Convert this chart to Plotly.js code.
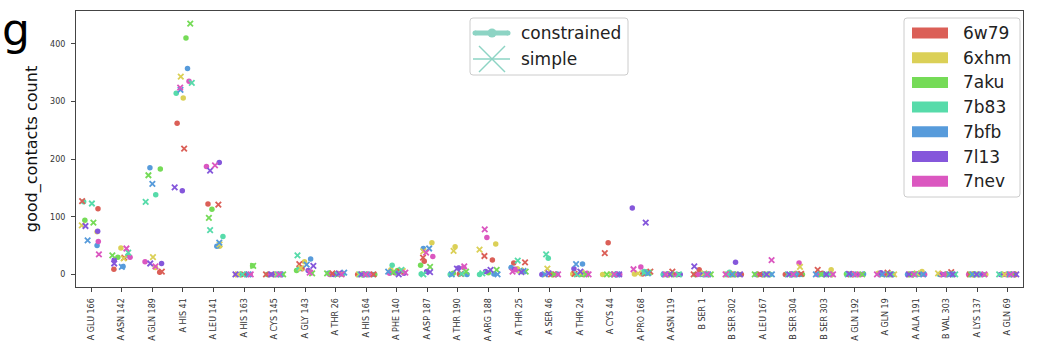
<!DOCTYPE html>
<html>
<head>
<meta charset="utf-8">
<script src="https://cdn.plot.ly/plotly-3.0.1.min.js"></script>
<style>html,body{margin:0;padding:0;background:#fff;}#chart{width:1038px;height:347px;}</style>
</head>
<body>
<div id="chart"></div>
<script>
// ---------------- DATA ----------------
const categories = ['A GLU 166','A ASN 142','A GLN 189','A HIS 41','A LEU 141','A HIS 163','A CYS 145','A GLY 143','A THR 26','A HIS 164','A PHE 140','A ASP 187','A THR 190','A ARG 188','A THR 25','A SER 46','A THR 24','A CYS 44','A PRO 168','A ASN 119','B SER 1','B SER 302','A LEU 167','B SER 304','B SER 303','A GLN 192','A GLN 19','A ALA 191','B VAL 303','A LYS 137','A GLN 69'];
const pdbs = ['6w79','6xhm','7aku','7b83','7bfb','7l13','7nev'];
const methods = ['constrained','simple'];
const yTicks = [0,100,200,300,400];

const constrained_6w79 = [114,9,4,262,122,0,0,10,1,0,3,23,1,25,20,0,0,55,1,0,8,0,0,0,2,1,0,1,0,0,0];
const simple_6w79      = [127,29,5,218,121,0,0,18,2,0,5,29,1,32,21,0,1,37,5,5,0,0,0,1,8,0,3,0,4,0,0];
const constrained_6xhm = [74,46,12,306,49,0,0,22,0,0,8,55,48,53,10,0,1,0,1,0,0,0,0,2,8,0,2,5,1,0,0];
const simple_6xhm      = [85,28,30,343,52,0,0,11,1,0,6,40,41,43,7,10,3,0,2,0,2,0,0,13,0,0,0,2,2,0,0];
const constrained_7aku = [94,30,183,410,113,15,0,7,0,0,7,16,2,3,5,0,0,0,2,0,0,0,0,0,0,1,0,0,0,0,0];
const simple_7aku      = [90,33,172,435,98,15,0,2,2,0,4,13,5,8,5,0,0,0,3,0,0,0,0,0,0,0,0,0,0,0,0];
const constrained_7b83 = [126,33,138,314,66,0,0,10,1,0,16,1,0,0,6,28,0,0,5,0,0,4,0,0,0,0,0,0,0,0,0];
const simple_7b83      = [123,38,126,332,77,0,0,33,0,0,8,0,1,2,24,35,0,0,3,0,0,0,0,0,0,0,0,0,0,0,0];
const constrained_7bfb = [50,14,185,357,49,0,0,27,2,0,3,45,0,1,12,1,18,0,4,0,0,0,0,0,0,1,0,0,0,0,0];
const simple_7bfb      = [59,13,157,320,55,0,0,17,3,0,5,45,0,0,6,0,18,0,2,0,0,0,0,0,0,0,0,0,0,0,0];
const constrained_7l13 = [75,25,19,145,194,0,0,7,0,0,2,5,11,5,9,0,10,0,115,0,0,21,0,0,0,0,3,1,0,0,0];
const simple_7l13      = [84,19,19,151,180,0,0,15,2,0,0,4,10,8,4,2,5,0,90,0,14,0,0,0,0,1,0,0,0,0,0];
const constrained_7nev = [57,30,22,335,187,0,0,4,0,0,2,31,12,64,8,0,2,0,13,0,0,0,0,20,0,0,0,0,0,0,0];
const simple_7nev      = [35,45,14,324,189,0,0,3,0,0,3,38,14,78,5,0,0,0,9,0,0,0,25,0,0,0,0,0,0,0,0];

const values = {
  constrained: [constrained_6w79, constrained_6xhm, constrained_7aku, constrained_7b83, constrained_7bfb, constrained_7l13, constrained_7nev],
  simple:      [simple_6w79, simple_6xhm, simple_7aku, simple_7b83, simple_7bfb, simple_7l13, simple_7nev]
};

// ---------------- STYLE / POSITION ----------------
const colors = ['#db5f57','#dbd057','#75db57','#57dbaa','#579bdb','#8557db','#db57c0'];
const legendTeal = '#8dd4c4';
const FONT = 'DejaVu Sans, Liberation Sans, sans-serif';

// strip-plot jitter (category units); null -> default spread
const jitterOverride = {
  constrained: {
    0: [0.22,0.19,-0.21,-0.25,0.19,0.21,0.23],
    1: [-0.26,-0.03,-0.13,0.20,0.04,-0.25,0.27],
    2: [0.24,0.10,0.26,0.11,-0.08,0.30,-0.24],
    3: [-0.19,0.01,0.10,-0.22,0.15,-0.02,0.20],
    4: [-0.18,0.20,-0.05,0.31,0.11,0.19,-0.23],
    5: [-0.25,-0.10,0.28,0.05,-0.18,0.12,0.20],
    7: [-0.10,-0.02,-0.28,-0.20,0.18,0.10,0.19],
    11: [-0.10,0.15,-0.22,-0.20,-0.13,-0.02,0.18],
    12: [0.05,-0.09,-0.15,-0.25,0.30,0.02,0.19],
    13: [0.13,0.24,0.00,-0.29,0.18,-0.09,-0.05],
    14: [-0.17,-0.05,0.10,0.00,-0.26,-0.14,-0.10],
    15: [0.10,-0.20,0.20,-0.04,0.25,-0.25,0.18],
    16: [0.10,-0.24,0.00,0.15,0.08,-0.20,0.23],
    17: [-0.08,-0.26,0.05,0.15,0.20,0.25,0.30],
    18: [0.05,-0.22,0.20,0.10,0.18,-0.29,-0.01],
    20: [-0.10,null,null,null,null,null,null],
    21: [null,null,null,null,null,0.09,null],
    23: [null,null,null,null,null,null,0.17],
    24: [null,0.22,null,null,null,null,null]
  },
  simple: {
    0: [-0.30,-0.31,0.07,0.02,-0.12,-0.19,0.25],
    1: [0.08,0.06,-0.31,0.21,0.00,-0.25,0.15],
    2: [0.31,0.02,-0.13,-0.22,0.00,-0.07,0.10],
    3: [0.04,-0.07,0.24,0.29,-0.08,-0.27,-0.09],
    4: [0.16,0.20,-0.15,-0.11,0.19,-0.11,0.05],
    5: [0.00,-0.20,0.30,-0.05,0.15,-0.28,0.22],
    7: [-0.19,-0.14,0.23,-0.25,0.05,0.27,0.15],
    11: [-0.14,-0.13,0.09,-0.13,0.06,0.09,-0.04],
    12: [0.10,-0.14,0.27,0.12,-0.20,-0.03,0.21],
    13: [-0.13,-0.29,0.27,-0.20,0.30,0.07,-0.12],
    14: [0.20,0.05,0.22,-0.04,0.15,0.08,-0.21],
    15: [0.05,-0.07,0.15,-0.11,-0.15,-0.03,0.28],
    16: [-0.18,0.05,0.20,-0.10,-0.13,0.01,0.28],
    17: [-0.19,0.00,-0.12,0.10,0.22,0.28,0.12],
    18: [0.30,-0.10,0.25,0.11,0.22,0.15,-0.25],
    20: [null,null,null,null,null,-0.26,null],
    22: [null,null,null,null,null,null,0.27],
    23: [null,0.20,null,null,null,null,null],
    24: [-0.22,null,null,null,null,null,null]
  }
};
const PERM = [3,10,6,0,12,8,1,13,5,9,2,11,7,4];
function jitter(method, k, p) {
  const o = jitterOverride[method][k];
  if (o && o[p] !== null && o[p] !== undefined) return o[p];
  const i = p * 2 + (method === 'simple' ? 1 : 0);
  return (PERM[(i + 5 * k) % 14] / 13 - 0.5) * 0.56;
}

// ---------------- TRACES ----------------
const traces = [];
methods.forEach(function (m) {
  pdbs.forEach(function (pdb, p) {
    const ys = values[m][p];
    const xs = ys.map(function (_, k) { return k + jitter(m, k, p); });
    const marker = m === 'constrained'
      ? {symbol: 'circle', size: 5.5, color: colors[p], line: {width: 0}}
      : {symbol: 'x-thin', size: 5.5, color: colors[p], line: {width: 1.8, color: colors[p]}};
    traces.push({
      type: 'scatter', mode: 'markers', x: xs, y: ys,
      name: pdb + ' ' + m, marker: marker, showlegend: false,
      hovertemplate: pdb + ' (' + m + ')<br>%{text}: %{y}<extra></extra>',
      text: categories
    });
  });
});

// ---------------- LAYOUT ----------------
const W = 1038, Hh = 347;
const L = 76, R = 1023, T = 11, B = 287;
const px = function (v) { return (v - L) / (R - L); };
const py = function (v) { return (B - v) / (B - T); };

function roundedBox(x0, y0, x1, y1, r) {
  const a = function (x, y) { return px(x) + ',' + py(y); };
  return 'M' + a(x0 + r, y0) + ' L' + a(x1 - r, y0) + ' Q' + a(x1, y0) + ' ' + a(x1, y0 + r) +
    ' L' + a(x1, y1 - r) + ' Q' + a(x1, y1) + ' ' + a(x1 - r, y1) +
    ' L' + a(x0 + r, y1) + ' Q' + a(x0, y1) + ' ' + a(x0, y1 - r) +
    ' L' + a(x0, y0 + r) + ' Q' + a(x0, y0) + ' ' + a(x0 + r, y0) + ' Z';
}

const shapes = [];
const annotations = [];

// marker-style legend
shapes.push({type: 'path', xref: 'paper', yref: 'paper', path: roundedBox(470, 18, 628, 75, 3),
  fillcolor: 'rgba(255,255,255,0.85)', line: {color: '#cccccc', width: 1}});
shapes.push({type: 'line', xref: 'paper', yref: 'paper', x0: px(475), x1: px(508), y0: py(33), y1: py(33),
  line: {color: legendTeal, width: 5}});
[475, 508].forEach(function (cx) {
  shapes.push({type: 'circle', xref: 'paper', yref: 'paper', x0: px(cx - 2.5), x1: px(cx + 2.5), y0: py(30.5), y1: py(35.5),
    fillcolor: legendTeal, line: {width: 0}});
});
shapes.push({type: 'circle', xref: 'paper', yref: 'paper', x0: px(487.5), x1: px(496.5), y0: py(28.5), y1: py(37.5),
  fillcolor: legendTeal, line: {width: 0}});
shapes.push({type: 'line', xref: 'paper', yref: 'paper', x0: px(473), x1: px(510), y0: py(59), y1: py(59),
  line: {color: legendTeal, width: 1.5}});
shapes.push({type: 'line', xref: 'paper', yref: 'paper', x0: px(479), x1: px(505), y0: py(46), y1: py(72),
  line: {color: legendTeal, width: 1.5}});
shapes.push({type: 'line', xref: 'paper', yref: 'paper', x0: px(479), x1: px(505), y0: py(72), y1: py(46),
  line: {color: legendTeal, width: 1.5}});
methods.forEach(function (m, i) {
  annotations.push({xref: 'paper', yref: 'paper', x: px(519), y: py(33 + i * 26), xanchor: 'left', yanchor: 'middle',
    text: m, showarrow: false, font: {family: FONT, size: 17, color: '#222'}});
});

// hue legend
shapes.push({type: 'path', xref: 'paper', yref: 'paper', path: roundedBox(904, 18, 1020, 197, 3),
  fillcolor: 'rgba(255,255,255,0.85)', line: {color: '#cccccc', width: 1}});
pdbs.forEach(function (pdb, i) {
  const cy = 33 + i * 24.7;
  shapes.push({type: 'rect', xref: 'paper', yref: 'paper', x0: px(912), x1: px(948), y0: py(cy - 5.5), y1: py(cy + 5.5),
    fillcolor: colors[i], line: {width: 0}});
  annotations.push({xref: 'paper', yref: 'paper', x: px(961), y: py(cy), xanchor: 'left', yanchor: 'middle',
    text: pdb, showarrow: false, font: {family: FONT, size: 17, color: '#222'}});
});

// panel letter
annotations.push({xref: 'paper', yref: 'paper', x: px(0), y: py(30), xanchor: 'left', yanchor: 'middle',
  text: 'g', showarrow: false, font: {family: FONT, size: 44, color: '#000'}});

const axisCommon = {
  showline: true, mirror: true, linecolor: '#444', linewidth: 1,
  ticks: 'outside', ticklen: 4, tickwidth: 1, tickcolor: '#444',
  showgrid: false, zeroline: false,
  tickfont: {family: FONT, size: 8, color: '#333'}
};

const layout = {
  width: W, height: Hh,
  margin: {l: L, r: W - R, t: T, b: Hh - B},
  paper_bgcolor: '#fff', plot_bgcolor: '#fff',
  showlegend: false,
  xaxis: Object.assign({}, axisCommon, {
    range: [-0.5, categories.length - 0.5],
    tickmode: 'array', tickvals: categories.map(function (_, i) { return i; }), ticktext: categories,
    tickangle: -90, ticklabelstandoff: 3
  }),
  yaxis: Object.assign({}, axisCommon, {
    range: [-21.75, 456.75],
    tickmode: 'array', tickvals: yTicks, ticktext: yTicks.map(String),
    ticklabelstandoff: 4,
    title: {text: 'good_contacts count', font: {family: FONT, size: 16, color: '#111'}, standoff: 8}
  }),
  shapes: shapes,
  annotations: annotations
};

Plotly.newPlot('chart', traces, layout, {displayModeBar: false, staticPlot: true});
</script>
</body>
</html>
